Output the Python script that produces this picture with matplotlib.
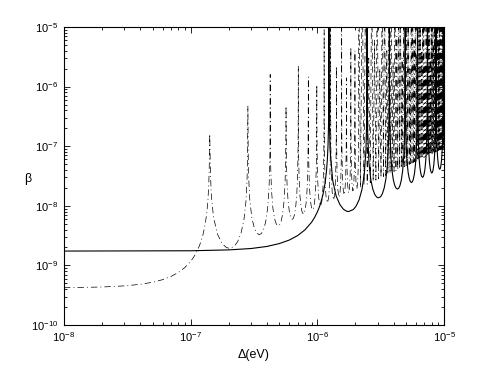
import numpy as np
import matplotlib
matplotlib.use('Agg')
import matplotlib.pyplot as plt

# Values. Delta in neV (1e-9 eV), beta in units of 1e-9.
# Solid curve
solid_delta = [10, 100, 200, 300, 400, 500, 600, 700, 800, 900, 950, 1000, 1030, 1060, 1110, 1150, 1180, 1200, 1215, 1225, 1231,
 1235,
 1236.2, 1241.2, 1259.7, 1321.5, 1407.9, 1506.7, 1605.5, 1704.3, 1766.4, 1926.6, 2025.4, 2136.6, 2247.7, 2346.5, 2420.6, 2457.7, 2466.3,
 2470,
 2471.2, 2476.2, 2494.7, 2556.5, 2642.9, 2741.7, 2840.5, 2939.3, 3036.9, 3161.6, 3260.4, 3371.6, 3482.7, 3581.5, 3655.6, 3692.7, 3701.3,
 3705,
 3706.2, 3711.2, 3729.7, 3791.5, 3877.9, 3976.7, 4075.5, 4174.3, 4286.6, 4396.6, 4495.4, 4606.6, 4717.7, 4816.5, 4890.6, 4927.7, 4936.3,
 4940,
 4941.2, 4946.2, 4964.7, 5026.5, 5112.9, 5211.7, 5310.5, 5409.3, 5529.6, 5631.6, 5730.4, 5841.6, 5952.7, 6051.5, 6125.6, 6162.7, 6171.3,
 6175,
 6176.2, 6181.2, 6199.7, 6261.5, 6347.9, 6446.7, 6545.5, 6644.3, 6769.7, 6866.6, 6965.4, 7076.6, 7187.7, 7286.5, 7360.6, 7397.7, 7406.3,
 7410,
 7411.2, 7416.2, 7434.7, 7496.5, 7582.9, 7681.7, 7780.5, 7879.3, 8008.2, 8101.6, 8200.4, 8311.6, 8422.7, 8521.5, 8595.6, 8632.7, 8641.3,
 8645,
 8646.2, 8651.2, 8669.7, 8731.5, 8817.9, 8916.7, 9015.5, 9114.3, 9245.8, 9336.6, 9435.4, 9546.6, 9657.7, 9756.5, 9830.6, 9867.7, 9876.3,
 9880,
 9881.2, 9886.2, 9904.7, 9966.5, 10052.9]
solid_beta = [1.74, 1.76, 1.82, 1.92, 2.08, 2.32, 2.66, 3.17, 3.96, 5.29, 6.34, 7.86, 9.15, 10.9, 15.7, 23.7, 37.5, 59.7, 106, 213, 535,
 100000,
 1790, 348, 88.8, 26.8, 14.6, 10.5, 8.78, 8.11, 8.01, 8.68, 9.91, 12.6, 18.6, 33.6, 85.5, 348, 1160,
 100000,
 3580, 695, 176, 51.8, 27.5, 19, 15.5, 14, 13.6, 14.2, 15.9, 19.9, 28.8, 51.3, 129, 522, 1740,
 100000,
 5370, 1040, 263, 76.9, 40.3, 27.6, 22.3, 19.9, 19.1, 19.8, 22, 27.2, 39, 69, 173, 697, 2320,
 100000,
 7160, 1390, 350, 102, 53.1, 36.2, 29.1, 25.8, 24.5, 25.4, 28, 34.5, 49.2, 86.7, 216, 872, 2900,
 100000,
 8960, 1730, 437, 127, 66, 44.8, 35.8, 31.6, 30, 30.9, 34.1, 41.8, 59.4, 104, 260, 1050, 3480,
 100000,
 10700, 2080, 524, 152, 78.8, 53.3, 42.6, 37.5, 35.5, 36.5, 40.1, 49, 69.6, 122, 304, 1220, 4060,
 100000,
 12500, 2430, 611, 177, 91.7, 61.9, 49.3, 43.4, 41, 42.1, 46.2, 56.3, 79.8, 140, 347, 1400, 4640,
 100000,
 14300, 2770, 698, 202, 104]

# Dash-dot curve, resolved part
dd_delta = [10, 20, 30, 40, 50, 60, 70, 80, 90, 100, 105, 110, 115, 120, 125, 130, 134, 137, 139, 140, 140.7,
 141.5,
 142.2, 143.2, 145.7, 151.4, 162.7, 176.9, 191.0, 202.4, 220.7, 234.9, 249.0, 263.2, 273.1, 278.8, 281.3, 282.3,
 283,
 283.7, 284.7, 287.2, 292.9, 304.2, 318.4, 332.5, 348.0, 362.2, 376.4, 390.5, 404.7, 414.6, 420.3, 422.8, 423.8, 424.2,
 424.5,
 424.8, 425.2, 426.2, 428.7, 434.4, 445.7, 459.9, 474.0, 491.1, 503.7, 517.9, 532.0, 546.2, 556.1, 561.8, 564.3, 565.3,
 566,
 566.7, 567.7, 570.2, 575.9, 587.2, 601.4, 615.5, 633.6, 645.2, 659.4, 673.5, 687.7, 697.6, 703.3, 705.8, 706.8, 707.2,
 707.5,
 707.8, 708.2, 709.2, 711.7, 717.4, 728.7, 742.9, 757.0, 775.6, 786.7, 800.9, 815.0, 829.2, 839.1, 844.8, 847.3, 848.3,
 849,
 849.7, 850.7, 853.2, 858.9, 870.2, 884.4, 898.5, 917.5, 928.2, 942.4, 956.5, 970.7, 980.6, 986.3, 988.8, 989.8,
 990.5,
 991.9, 996.2, 1007.5, 1027.3, 1059.3, 1086.7, 1107.9, 1122.1, 1129.2,
 1132,
 1133.4, 1137.7, 1149.0, 1168.8, 1201.1, 1228.2, 1249.4, 1263.6, 1270.7,
 1273.5,
 1274.9, 1279.2, 1290.5, 1310.3, 1342.7, 1369.7, 1390.9, 1405.1, 1412.2,
 1415,
 1416.4, 1420.7, 1432.0, 1451.8, 1484.4, 1511.2, 1532.4, 1546.6, 1553.7,
 1556.5,
 1557.9, 1562.2, 1573.5, 1593.3, 1626.0, 1652.7, 1673.9, 1688.1, 1695.2,
 1698,
 1699.4, 1703.7, 1715.0, 1734.8, 1767.6, 1794.2, 1815.4, 1829.6, 1836.7,
 1839.5,
 1840.9, 1845.2, 1856.5, 1876.3, 1909.2, 1935.7, 1956.9, 1971.1, 1978.2,
 1981,
 1982.4, 1986.7, 1998.0, 2017.8, 2050.8, 2077.2, 2098.4, 2112.6, 2119.7]
dd_beta = [0.423, 0.434, 0.453, 0.481, 0.521, 0.576, 0.653, 0.762, 0.922, 1.17, 1.35, 1.59, 1.93, 2.44, 3.25, 4.8, 7.54, 12.8, 23.4, 39.2, 73.9,
 160,
 85.3, 35.4, 14.6, 6.48, 3.35, 2.33, 2, 1.93, 2.09, 2.5, 3.39, 5.77, 11.7, 27.9, 69.5, 169,
 470,
 170, 70.4, 28.8, 12.5, 6.26, 4.2, 3.48, 3.27, 3.44, 4.01, 5.31, 8.87, 17.7, 42.1, 104, 254, 594,
 1600,
 595, 255, 105, 42.9, 18.6, 9.16, 6.06, 4.96, 4.6, 4.78, 5.51, 7.24, 12, 23.8, 56.3, 139, 339,
 470,
 340, 140, 57.1, 24.6, 12.1, 7.93, 6.44, 5.92, 6.12, 7.02, 9.17, 15.1, 29.8, 70.4, 174, 424, 990,
 2200,
 991, 425, 175, 71.3, 30.7, 15, 9.79, 7.92, 7.24, 7.47, 8.52, 11.1, 18.2, 35.9, 84.6, 209, 509,
 1450,
 510, 210, 85.4, 36.7, 17.9, 11.7, 9.41, 8.57, 8.81, 10, 13, 21.3, 41.9, 98.8, 244, 594,
 1070,
 298, 73.6, 25.5, 13.1, 9.89, 12, 20.3, 48, 169,
 9000,
 340, 84.1, 29.1, 14.9, 11.2, 13.6, 22.8, 54, 191,
 100000,
 383, 94.5, 32.7, 16.8, 12.5, 15.1, 25.4, 60.1, 212,
 2200,
 425, 105, 36.2, 18.6, 13.8, 16.7, 28, 66.1, 233,
 100000,
 467, 115, 39.8, 20.4, 15.2, 18.2, 30.6, 72.2, 254,
 1400,
 510, 126, 43.4, 22.2, 16.5, 19.8, 33.2, 78.2, 276,
 4600,
 552, 136, 47, 24, 17.8, 21.4, 35.8, 84.3, 297,
 4000,
 595, 147, 50.6, 25.8, 19.1, 22.9, 38.4, 90.4, 318]

# Dash-dot curve, dense part: resonance peaks and lobe minima
dense_peak_delta = [2122.5, 2264, 2405.5, 2547, 2688.5, 2830, 2971.5, 3113, 3254.5, 3396, 3537.5, 3679, 3820.5,
 3962, 4103.5, 4245, 4386.5, 4528, 4669.5, 4811, 4952.5, 5094, 5235.5, 5377, 5518.5, 5660, 5801.5, 5943,
 6084.5, 6226, 6367.5, 6509, 6650.5, 6792, 6933.5, 7075, 7216.5, 7358, 7499.5, 7641, 7782.5, 7924, 8065.5,
 8207, 8348.5, 8490, 8631.5, 8773, 8914.5, 9056, 9197.5, 9339, 9480.5, 9622, 9763.5, 9905, 10046.5]
dense_peak_beta = [100000, 100000, 100000, 3000, 100000, 6000, 100000, 2000, 100000, 100000, 4000,
 100000, 100000, 2500, 100000, 7000, 100000, 100000, 3000, 100000, 5000, 100000, 100000, 2000,
 100000, 100000, 6000, 100000, 3500, 100000, 100000, 100000, 4000, 100000, 100000, 2500, 100000,
 8000, 100000, 100000, 3000, 100000, 100000, 5000, 100000, 100000, 2000, 100000, 100000, 6000,
 100000, 100000, 3500, 100000, 100000, 7000, 100000]
dense_min_delta = [2192.5, 2334, 2475.5, 2617, 2758.5, 2900, 3041.5, 3183, 3324.5, 3466, 3607.5, 3749, 3890.5,
 4032, 4173.5, 4315, 4456.5, 4598, 4739.5, 4881, 5022.5, 5164, 5305.5, 5447, 5588.5, 5730, 5871.5, 6013,
 6154.5, 6296, 6437.5, 6579, 6720.5, 6862, 7003.5, 7145, 7286.5, 7428, 7569.5, 7711, 7852.5, 7994, 8135.5,
 8277, 8418.5, 8560, 8701.5, 8843, 8984.5, 9126, 9267.5, 9409, 9550.5, 9692, 9833.5, 9975]
dense_min_beta = [20.4, 21.8, 23.1, 24.4, 25.7, 27, 28.4, 29.7, 31, 32.3, 33.6, 35, 36.3, 37.6, 38.9, 40.2,
 41.6, 42.9, 44.2, 45.5, 46.8, 48.2, 49.5, 50.8, 52.1, 53.4, 54.8, 56.1, 57.4, 58.7, 60, 61.4, 62.7, 64,
 65.3, 66.6, 68, 69.3, 70.6, 71.9, 73.2, 74.6, 75.9, 77.2, 78.5, 79.8, 81.2, 82.5, 83.8, 85.1, 86.4,
 87.7, 89.1, 90.4, 91.7, 93]

x_ticks = [1e-8, 1e-7, 1e-6, 1e-5]
y_ticks = [1e-10, 1e-9, 1e-8, 1e-7, 1e-6, 1e-5]

# assemble the dash-dot curve: resolved part, then alternating peak / minimum
dd_x = list(dd_delta)
dd_y = list(dd_beta)
for pk_x, pk_y, mn_x, mn_y in zip(dense_peak_delta, dense_peak_beta, dense_min_delta, dense_min_beta):
    dd_x += [pk_x, mn_x]
    dd_y += [pk_y, mn_y]
dd_x.append(dense_peak_delta[-1])
dd_y.append(dense_peak_beta[-1])

plt.rcParams['font.family'] = ['Liberation Sans', 'DejaVu Sans']
plt.rcParams['mathtext.fontset'] = 'custom'
plt.rcParams['mathtext.rm'] = 'Liberation Sans'
plt.rcParams['mathtext.it'] = 'Liberation Sans:italic'
plt.rcParams['mathtext.bf'] = 'Liberation Sans:bold'
plt.rcParams['lines.scale_dashes'] = False

fig = plt.figure(figsize=(4.91, 3.66), dpi=100)
ax = fig.add_axes([64/491, 41/366, 380/491, 298/366])
ax.plot(np.array(solid_delta) * 1e-9, np.array(solid_beta) * 1e-9, color='black', lw=0.8)
ax.plot(np.array(dd_x) * 1e-9, np.array(dd_y) * 1e-9, color='black', lw=0.5,
        linestyle=(0, (4.6, 2.2, 0.7, 2.2)))
ax.set_xscale('log')
ax.set_yscale('log')
ax.set_xlim(x_ticks[0], x_ticks[-1])
ax.set_ylim(y_ticks[0], y_ticks[-1])
ax.set_xticks(x_ticks)
ax.set_yticks(y_ticks)
ax.tick_params(which='both', direction='in', top=True, right=True, labelsize=8, width=0.6)
ax.tick_params(which='major', length=4, pad=4)
ax.tick_params(which='minor', length=2)
for s in ax.spines.values():
    s.set_linewidth(0.8)
ax.set_xlabel('Δ(eV)', fontsize=9, labelpad=3)
ax.set_ylabel('β', fontsize=9, rotation=0, va='center', ha='center')
ax.yaxis.set_label_coords(-0.095, 0.49)
fig.savefig('out.png', dpi=100)
